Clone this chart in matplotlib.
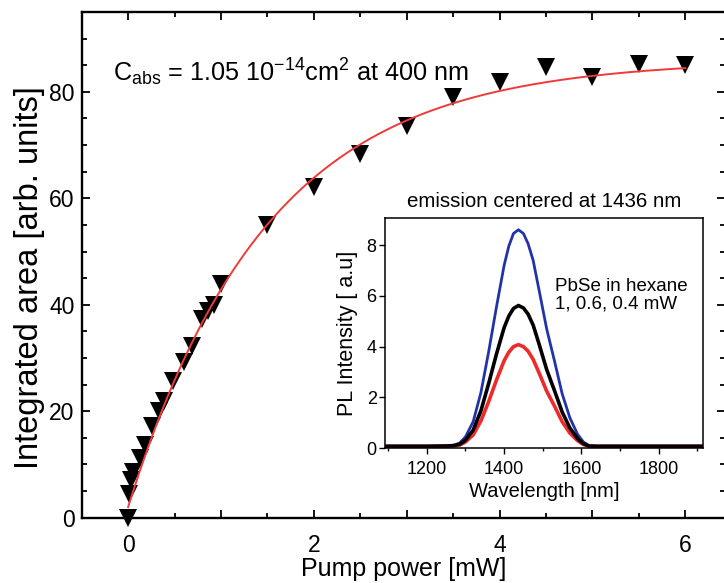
import numpy as np
import matplotlib
matplotlib.use("Agg")
import matplotlib.pyplot as plt
from matplotlib.ticker import MultipleLocator, FuncFormatter

plt.rcParams['font.family'] = ['Liberation Sans', 'DejaVu Sans']
plt.rcParams['mathtext.fontset'] = 'custom'
plt.rcParams['mathtext.rm'] = 'Liberation Sans'
plt.rcParams['mathtext.it'] = 'Liberation Sans:italic'
plt.rcParams['mathtext.bf'] = 'Liberation Sans:bold'

# Integrated PL area versus pump power
power_mw = [0.0, 0.006, 0.03, 0.055, 0.125, 0.18, 0.26, 0.33, 0.39, 0.48, 0.60, 0.69,
            0.80, 0.86, 0.92, 1.0, 1.5, 2.0, 2.5, 3.0, 3.5, 4.0, 4.5, 5.0, 5.5, 6.0]
area = [0.0, 4.4, 7.1, 8.5, 11.2, 13.7, 17.3, 20.1, 22.0, 25.6, 29.3, 32.3,
        37.4, 38.9, 40.0, 43.9, 55.0, 62.1, 68.4, 73.5, 79.1, 81.9, 84.7, 82.8, 85.3, 85.0]

# Saturation fit: offset + amplitude * (1 - exp(-P / P_sat))
fit_offset = 2.0
fit_amplitude = 84.0
fit_psat_mw = 1.5

# PL spectra at 1, 0.6 and 0.4 mW
wavelength_nm = [1092, 1150, 1200, 1250, 1270, 1285, 1300, 1320, 1340, 1360, 1380, 1400,
                 1412, 1424, 1437, 1450, 1462, 1475, 1490, 1510, 1530, 1550, 1570, 1590,
                 1605, 1620, 1640, 1700, 1800, 1915]
pl_1mw = [0.08, 0.08, 0.08, 0.09, 0.12, 0.21, 0.45, 1.05, 2.2, 3.8, 5.55, 7.2,
          7.95, 8.45, 8.6, 8.45, 8.05, 7.4, 6.25, 4.7, 3.45, 2.15, 1.2, 0.55,
          0.25, 0.1, 0.08, 0.08, 0.08, 0.08]
pl_06mw = [0.08, 0.08, 0.08, 0.09, 0.11, 0.16, 0.32, 0.72, 1.48, 2.55, 3.7, 4.75,
           5.2, 5.5, 5.62, 5.52, 5.28, 4.85, 4.12, 3.1, 2.28, 1.43, 0.8, 0.38,
           0.18, 0.09, 0.08, 0.08, 0.08, 0.08]
pl_04mw = [0.08, 0.08, 0.08, 0.09, 0.1, 0.13, 0.25, 0.53, 1.08, 1.84, 2.68, 3.45,
           3.78, 4.0, 4.08, 4.0, 3.82, 3.5, 2.98, 2.25, 1.67, 1.05, 0.6, 0.3,
           0.15, 0.09, 0.08, 0.08, 0.08, 0.08]

fig = plt.figure(figsize=(7.24, 5.83), dpi=100)

# ---- main panel ----
ax = fig.add_axes([0.1128, 0.112, 0.889, 0.8674])
ax.plot(power_mw, area, linestyle='none', marker='v', markersize=12.5,
        color='black', markeredgewidth=0, clip_on=False, zorder=3)

p_fit = np.linspace(0, 6, 300)
ax.plot(p_fit, fit_offset + fit_amplitude * (1 - np.exp(-p_fit / fit_psat_mw)),
        color='#f03a3a', lw=1.4, zorder=4)

ax.set_xlim(-0.5, 6.43)
ax.set_ylim(0, 95)
ax.xaxis.set_major_locator(MultipleLocator(1))
ax.xaxis.set_minor_locator(MultipleLocator(0.5))
ax.xaxis.set_major_formatter(FuncFormatter(lambda v, p: f"{v:.0f}" if round(v) % 2 == 0 else ""))
ax.yaxis.set_major_locator(MultipleLocator(20))
ax.yaxis.set_minor_locator(MultipleLocator(5))
ax.tick_params(which='both', direction='in', top=True, right=True, width=1.3,
               labelsize=16.5)
ax.tick_params(which='major', length=6)
ax.tick_params(which='minor', length=3.5)
ax.tick_params(axis='x', which='major', pad=12)
ax.tick_params(axis='y', which='major', pad=5)
for s in ax.spines.values():
    s.set_linewidth(1.7)

ax.set_xlabel('Pump power [mW]', fontsize=18, labelpad=0)
ax.set_ylabel('Integrated area [arb. units]', fontsize=23.5)
ax.yaxis.set_label_coords(-0.057, 0.474)
ax.text(0.0486, 0.862, r'C$_{\mathrm{abs}}$ = 1.05 10$^{-14}$cm$^{2}$ at 400 nm',
        transform=ax.transAxes, fontsize=18.2, va='baseline', ha='left')

# ---- inset: emission spectra ----
ins = fig.add_axes([0.5318, 0.231, 0.4396, 0.3945])
ins.set_facecolor('white')
ins.plot(wavelength_nm, pl_1mw, color='#2233aa', lw=2.0)
ins.plot(wavelength_nm, pl_04mw, color='#ee2a2a', lw=2.6)
ins.plot(wavelength_nm, pl_06mw, color='black', lw=2.6)
ins.set_xlim(1092, 1915)
ins.set_ylim(0, 9.05)
ins.xaxis.set_major_locator(MultipleLocator(200))
ins.xaxis.set_minor_locator(MultipleLocator(100))
ins.yaxis.set_major_locator(MultipleLocator(2))
ins.tick_params(which='both', direction='out', width=1.0, labelsize=13)
ins.tick_params(which='major', length=4)
ins.tick_params(which='minor', length=2.5)
ins.tick_params(axis='x', pad=5)
ins.tick_params(axis='y', pad=2)
for s in ins.spines.values():
    s.set_linewidth(1.1)
ins.set_title('emission centered at 1436 nm', fontsize=14.8, pad=8)
ins.set_xlabel('Wavelength [nm]', fontsize=14.5, labelpad=3)
ins.set_ylabel('PL Intensity [ a.u]', fontsize=15.5, labelpad=6)
ins.text(0.534, 0.74, 'PbSe in hexane\n1, 0.6, 0.4 mW', transform=ins.transAxes,
         fontsize=13.5, va='top', ha='left', linespacing=1.05)

fig.savefig('out.png', dpi=100)
